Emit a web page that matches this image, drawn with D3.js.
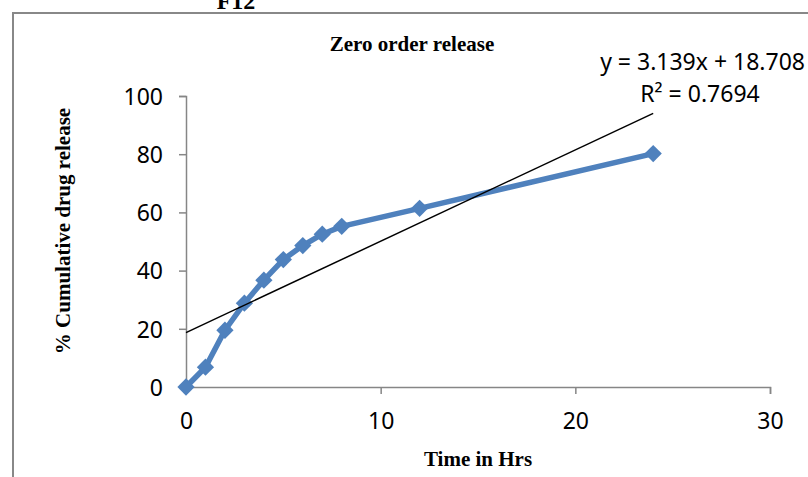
<!DOCTYPE html>
<html>
<head>
<meta charset="utf-8">
<script src="https://cdn.jsdelivr.net/npm/d3@7"></script>
<style>
  body { margin: 0; background: #fff; }
  svg { display: block; }
</style>
</head>
<body>
<div id="chart"></div>
<script>
// DATA //
const timeHrs = [0, 1, 2, 3, 4, 5, 6, 7, 8, 12, 24]
const releasePct = [0, 6.8, 19.5, 28.8, 36.7, 43.8, 48.6, 52.5, 55.2, 61.4, 80.2]
const xTicks = [0, 10, 20, 30]
const yTicks = [0, 20, 40, 60, 80, 100]
const trendSlope = [3.139]
const trendIntercept = [18.708]
const trendLabels = ["y = 3.139x + 18.708", "R² = 0.7694"]

// DIMENSIONS //
let dimensions = {
    width: 808,
    height: 477,
    margin: { top: 96, right: 38, bottom: 90, left: 186 },
}
dimensions.boundedWidth = dimensions.width - dimensions.margin.left - dimensions.margin.right
dimensions.boundedHeight = dimensions.height - dimensions.margin.top - dimensions.margin.bottom

const blue = "#4F81BD"
const axisGray = "#868686"
const tickFont = "'Noto Sans', sans-serif"
const serifFont = "'Liberation Serif', 'Times New Roman', serif"

const svg = d3.select("#chart")
    .append("svg")
    .attr("width", dimensions.width)
    .attr("height", dimensions.height)

// outer chart frame (runs off the right and bottom edge)
svg.append("path")
    .attr("d", `M13,${dimensions.height + 5} L13,13 L${dimensions.width + 5},13`)
    .attr("fill", "none")
    .attr("stroke", "#888")
    .attr("stroke-width", 2)

// figure label, cut off at the top as in the source
svg.append("text")
    .attr("x", 236)
    .attr("y", 9)
    .attr("text-anchor", "middle")
    .style("font-family", serifFont)
    .style("font-weight", "bold")
    .style("font-size", "24px")
    .text("F12")

const bounds = svg.append("g")
    .attr("transform", `translate(${dimensions.margin.left},${dimensions.margin.top})`)

// Scales
const xScale = d3.scaleLinear()
    .domain([0, 30])
    .range([0, dimensions.boundedWidth])

const yScale = d3.scaleLinear()
    .domain([0, 100])
    .range([dimensions.boundedHeight, 0])

// Axes
const xAxisGenerator = d3.axisBottom(xScale)
    .tickValues(xTicks)
    .tickSize(7)
    .tickPadding(12)

const yAxisGenerator = d3.axisLeft(yScale)
    .tickValues(yTicks)
    .tickSize(7)
    .tickPadding(16)

const xAxis = bounds.append("g")
    .attr("transform", `translate(0,${dimensions.boundedHeight})`)
    .call(xAxisGenerator)

const yAxis = bounds.append("g")
    .call(yAxisGenerator)

;[xAxis, yAxis].forEach(ax => {
    ax.select(".domain").attr("stroke", axisGray).attr("stroke-width", 1.5)
    ax.selectAll(".tick line").attr("stroke", axisGray).attr("stroke-width", 1.5)
    ax.selectAll(".tick text")
        .attr("fill", "#000")
        .style("font-family", tickFont)
        .style("font-size", "23px")
})
yAxis.selectAll(".tick text").attr("dy", "0.36em")
xAxis.selectAll(".tick text").attr("dy", "1em")

// Data line
const lineGenerator = d3.line()
    .x((d, i) => xScale(timeHrs[i]))
    .y(d => yScale(d))

bounds.append("path")
    .datum(releasePct)
    .attr("d", lineGenerator)
    .attr("fill", "none")
    .attr("stroke", blue)
    .attr("stroke-width", 5.5)
    .attr("stroke-linejoin", "round")

// diamond markers
bounds.selectAll(".marker")
    .data(releasePct)
    .join("path")
    .attr("class", "marker")
    .attr("d", d3.symbol(d3.symbolDiamond2, 190))
    .attr("transform", (d, i) => `translate(${xScale(timeHrs[i])},${yScale(d)})`)
    .attr("fill", blue)

// Linear trendline over the data range
const trendX = d3.extent(timeHrs)
bounds.append("line")
    .attr("x1", xScale(trendX[0]))
    .attr("y1", yScale(trendSlope[0] * trendX[0] + trendIntercept[0]))
    .attr("x2", xScale(trendX[1]))
    .attr("y2", yScale(trendSlope[0] * trendX[1] + trendIntercept[0]))
    .attr("stroke", "#000")
    .attr("stroke-width", 1.5)

// Trendline label
svg.append("text")
    .attr("x", 805)
    .attr("y", 70)
    .attr("text-anchor", "end")
    .style("font-family", tickFont)
    .style("font-size", "23px")
    .text(trendLabels[0])

svg.append("text")
    .attr("x", 700)
    .attr("y", 102)
    .attr("text-anchor", "middle")
    .style("font-family", tickFont)
    .style("font-size", "23px")
    .text(trendLabels[1])

// Titles
svg.append("text")
    .attr("x", 412)
    .attr("y", 51)
    .attr("text-anchor", "middle")
    .style("font-family", serifFont)
    .style("font-weight", "bold")
    .style("font-size", "21px")
    .text("Zero order release")

svg.append("text")
    .attr("transform", "translate(70,231) rotate(-90)")
    .attr("text-anchor", "middle")
    .style("font-family", serifFont)
    .style("font-weight", "bold")
    .style("font-size", "21px")
    .text("% Cumulative drug release")

svg.append("text")
    .attr("x", 478)
    .attr("y", 466)
    .attr("text-anchor", "middle")
    .style("font-family", serifFont)
    .style("font-weight", "bold")
    .style("font-size", "21px")
    .text("Time in Hrs")
</script>
</body>
</html>
